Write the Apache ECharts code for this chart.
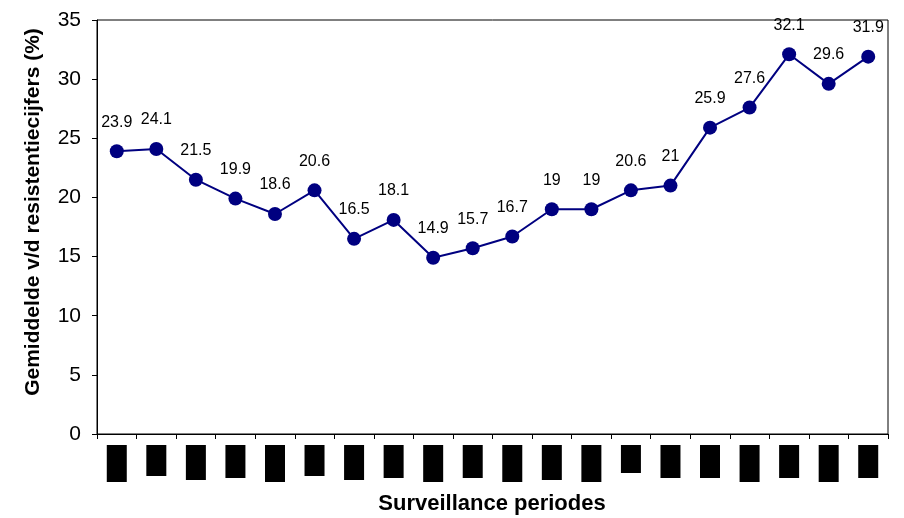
<!DOCTYPE html>
<html>
<head>
<meta charset="utf-8">
<script src="https://cdn.jsdelivr.net/npm/echarts@6/dist/echarts.min.js"></script>
<style>
  html, body { margin: 0; padding: 0; background: #fff; }
  #chart { width: 904px; height: 518px; }
</style>
</head>
<body>
<div id="chart"></div>
<script>
// Surveillance periods (labels are shown as blacked-out blocks)
const periods = ['P1', 'P2', 'P3', 'P4', 'P5', 'P6', 'P7', 'P8', 'P9', 'P10',
                 'P11', 'P12', 'P13', 'P14', 'P15', 'P16', 'P17', 'P18', 'P19', 'P20'];
// Mean resistance rate per period (%)
const meanRates = [23.9, 24.1, 21.5, 19.9, 18.6, 20.6, 16.5, 18.1, 14.9, 15.7,
                   16.7, 19, 19, 20.6, 21, 25.9, 27.6, 32.1, 29.6, 31.9];
const yTicks = [0, 5, 10, 15, 20, 25, 30, 35];
// Height of each blacked-out period label block
const blockHeights = [37, 31, 35, 33, 37, 31, 35, 33, 37, 33,
                      37, 35, 37, 28, 33, 33, 37, 33, 37, 33];

const rich = {};
blockHeights.forEach((h, i) => {
  rich['b' + i] = {
    width: 20, height: h, backgroundColor: '#000', color: '#000',
    fontSize: 10, align: 'center', verticalAlign: 'top'
  };
});

const chart = echarts.init(document.getElementById('chart'), null, { renderer: 'canvas' });
chart.setOption({
  animation: false,
  grid: {
    left: 97, right: 16, top: 20, bottom: 84,
    show: true, borderColor: '#000', borderWidth: 1, backgroundColor: '#fff'
  },
  xAxis: {
    type: 'category',
    data: periods,
    boundaryGap: true,
    axisLine: { lineStyle: { color: '#000', width: 1 } },
    axisTick: { show: true, length: 5, inside: false, lineStyle: { color: '#000' } },
    axisLabel: {
      interval: 0,
      margin: 11,
      formatter: (v, i) => '{b' + i + '|' + v + '}',
      rich: rich
    },
    splitLine: { show: false }
  },
  yAxis: {
    type: 'value',
    min: yTicks[0],
    max: yTicks[yTicks.length - 1],
    interval: 5,
    axisLine: { show: true, lineStyle: { color: '#000', width: 1 } },
    axisTick: { show: true, length: 5, lineStyle: { color: '#000' } },
    axisLabel: {
      margin: 16,
      color: '#000',
      fontFamily: 'Liberation Sans, Arial, sans-serif',
      fontSize: 21
    },
    splitLine: { show: false }
  },
  graphic: [
    {
      type: 'text',
      x: 33, y: 212,
      rotation: Math.PI / 2,
      style: {
        text: 'Gemiddelde v/d resistentiecijfers (%)',
        fill: '#000',
        font: 'bold 21px "Liberation Sans", Arial, sans-serif',
        align: 'center',
        verticalAlign: 'middle'
      }
    },
    {
      type: 'text',
      x: 492, y: 504,
      style: {
        text: 'Surveillance periodes',
        fill: '#000',
        font: 'bold 22px "Liberation Sans", Arial, sans-serif',
        align: 'center',
        verticalAlign: 'middle'
      }
    }
  ],
  series: [{
    type: 'line',
    data: meanRates,
    symbol: 'circle',
    symbolSize: 14,
    lineStyle: { color: '#000080', width: 2 },
    itemStyle: { color: '#000080' },
    label: {
      show: true,
      position: 'top',
      distance: 14,
      color: '#000',
      fontFamily: 'Liberation Sans, Arial, sans-serif',
      fontSize: 16
    }
  }]
});
</script>
</body>
</html>
